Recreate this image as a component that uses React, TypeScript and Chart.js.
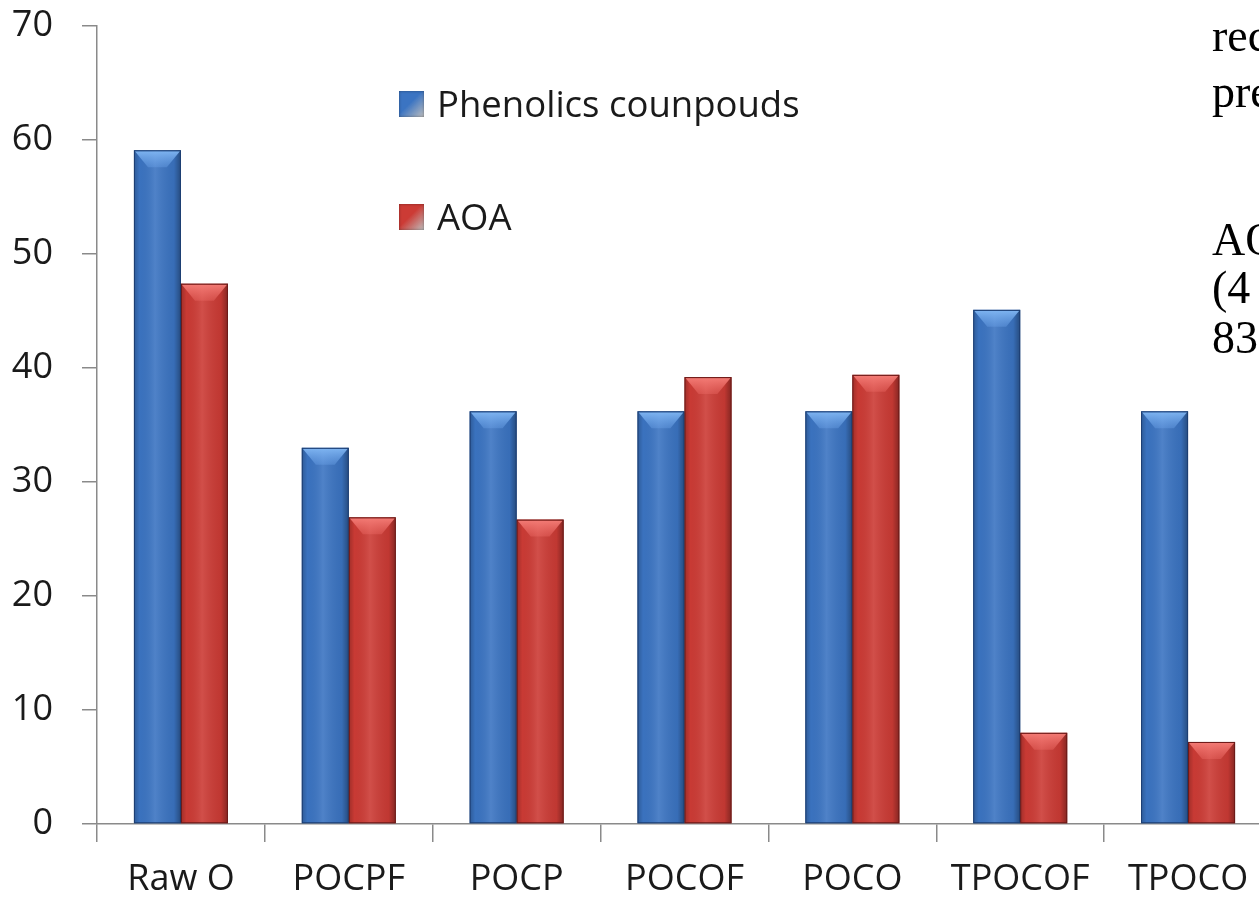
import React, { useEffect, useRef } from 'react';
import { Chart, registerables } from 'chart.js';

Chart.register(...registerables);

// ---- data ----
const categories = ['Raw O', 'POCPF', 'POCP', 'POCOF', 'POCO', 'TPOCOF', 'TPOCO'];
const phenolics = [59.1, 33.0, 36.2, 36.2, 36.2, 45.1, 36.2];
const aoa = [47.4, 26.9, 26.7, 39.2, 39.4, 8.0, 7.2];
const seriesNames = ['Phenolics counpouds', 'AOA'];
const yMin = 0;
const yMax = 70;
const yStep = 10;
// cut-off slide text on the right edge
const sideLines = ['rec', 'pre', 'AO', '(4', '83'];

const BLUE = '#3b74c2';
const BLUE_TOP = '#80b6f2';
const BLUE_EDGE = '#1c3e72';
const RED = '#cc3b35';
const RED_TOP = '#f47d77';
const RED_EDGE = '#6a1a18';

const AXIS = '#8a8a8a';
const FONT = '"Open Sans", Lato, sans-serif';

const bevelPlugin = {
  id: 'bevel',
  afterDatasetsDraw(chart: any) {
    const ctx = chart.ctx;
    chart.data.datasets.forEach((ds: any, di: number) => {
      const meta = chart.getDatasetMeta(di);
      const top = di === 0 ? BLUE_TOP : RED_TOP;
      const edge = di === 0 ? BLUE_EDGE : RED_EDGE;
      meta.data.forEach((bar: any) => {
        const { x, y, base, width } = bar.getProps(['x', 'y', 'base', 'width'], true);
        const l = x - width / 2;
        const r = x + width / 2;
        ctx.save();
        const g = ctx.createLinearGradient(l, 0, r, 0);
        g.addColorStop(0, 'rgba(0,0,0,0.22)');
        g.addColorStop(0.12, 'rgba(0,0,0,0.02)');
        g.addColorStop(0.45, 'rgba(255,255,255,0.10)');
        g.addColorStop(0.85, 'rgba(0,0,0,0.06)');
        g.addColorStop(1, 'rgba(0,0,0,0.35)');
        ctx.fillStyle = g;
        ctx.fillRect(l, y, width, base - y);
        // top bevel facet
        const h = Math.min(17, (base - y) / 2);
        const vg = ctx.createLinearGradient(0, y, 0, y + h);
        vg.addColorStop(0, top);
        vg.addColorStop(1, di === 0 ? 'rgba(110,165,235,0.35)' : 'rgba(240,110,105,0.35)');
        ctx.beginPath();
        ctx.moveTo(l + 1, y + 1);
        ctx.lineTo(r - 1, y + 1);
        ctx.lineTo(r - width * 0.3, y + h);
        ctx.lineTo(l + width * 0.3, y + h);
        ctx.closePath();
        ctx.fillStyle = vg;
        ctx.fill();
        ctx.strokeStyle = edge;
        ctx.lineWidth = 1;
        ctx.strokeRect(l + 0.5, y + 0.5, width - 1, base - y - 1);
        ctx.restore();
      });
    });
  },
};

function LegendItem({ color, top, label }: { color: string; top: number; label: string }) {
  return (
    <div style={{ position: 'absolute', left: 399, top, height: 40 }}>
      <div
        style={{
          position: 'absolute',
          left: 0,
          top: 6,
          width: 25,
          height: 26,
          background: `linear-gradient(135deg, ${color} 0%, ${color} 45%, rgba(0,0,0,0.25) 100%)`,
          boxShadow: 'inset 0 0 3px rgba(0,0,0,0.4)',
        }}
      />
      <div
        style={{
          position: 'absolute',
          left: 38,
          top: 0,
          whiteSpace: 'nowrap',
          fontFamily: FONT,
          fontSize: 36.5,
          lineHeight: '36px',
          color: '#1a1a1a',
        }}
      >
        {label}
      </div>
    </div>
  );
}

export default function App() {
  const ref = useRef<HTMLCanvasElement | null>(null);

  useEffect(() => {
    document.body.style.margin = '0';
    const canvas = ref.current;
    if (!canvas) return;
    const chart = new Chart(canvas, {
      type: 'bar',
      data: {
        labels: categories,
        datasets: [
          {
            label: seriesNames[0],
            data: phenolics,
            backgroundColor: BLUE,
            borderWidth: 0,
            categoryPercentage: 0.56,
            barPercentage: 1.0,
          },
          {
            label: seriesNames[1],
            data: aoa,
            backgroundColor: RED,
            borderWidth: 0,
            categoryPercentage: 0.56,
            barPercentage: 1.0,
          },
        ],
      },
      options: {
        responsive: false,
        animation: false,
        devicePixelRatio: 1,
        layout: { padding: { left: 0, right: 18, top: 26, bottom: 0 } },
        plugins: { legend: { display: false }, tooltip: { enabled: false } },
        scales: {
          x: {
            grid: {
              display: true,
              drawOnChartArea: false,
              drawTicks: true,
              tickLength: 18,
              color: AXIS,
              lineWidth: 1.5,
              offset: true,
            },
            border: { display: true, color: AXIS, width: 1.5 },
            ticks: {
              font: { family: FONT, size: 36 },
              color: '#1a1a1a',
              padding: 16,
              maxRotation: 0,
              autoSkip: false,
            },
            afterFit: (s: any) => {
              s.height = 95;
              s.paddingLeft = 0;
              s.paddingRight = 0;
            },
          },
          y: {
            min: yMin,
            max: yMax,
            grid: {
              display: true,
              drawOnChartArea: false,
              drawTicks: true,
              tickLength: 15,
              color: AXIS,
              lineWidth: 1.5,
            },
            border: { display: true, color: AXIS, width: 1.5 },
            ticks: {
              stepSize: yStep,
              font: { family: FONT, size: 36 },
              color: '#1a1a1a',
              padding: 29,
            },
            afterFit: (s: any) => {
              s.width = 97;
              s.paddingTop = 0;
              s.paddingBottom = 0;
            },
          },
        },
      },
      plugins: [bevelPlugin],
    });
    return () => chart.destroy();
  }, []);

  const baselines = [51, 107, 255, 303, 353];

  return (
    <div
      style={{
        position: 'fixed',
        left: 0,
        top: 0,
        width: 1259,
        height: 919,
        overflow: 'hidden',
        background: '#ffffff',
      }}
    >
      <canvas ref={ref} width={1290} height={919} style={{ position: 'absolute', left: 0, top: 0 }} />
      <LegendItem color={BLUE} top={85} label={seriesNames[0]} />
      <LegendItem color={RED} top={198} label={seriesNames[1]} />
      {sideLines.map((t, i) => (
        <div
          key={i}
          style={{
            position: 'absolute',
            left: 1212,
            top: baselines[i] - 45.5,
            fontFamily: '"Liberation Serif", "Times New Roman", serif',
            fontSize: 46,
            lineHeight: '60px',
            whiteSpace: 'nowrap',
            color: '#000',
          }}
        >
          {t}
        </div>
      ))}
    </div>
  );
}
